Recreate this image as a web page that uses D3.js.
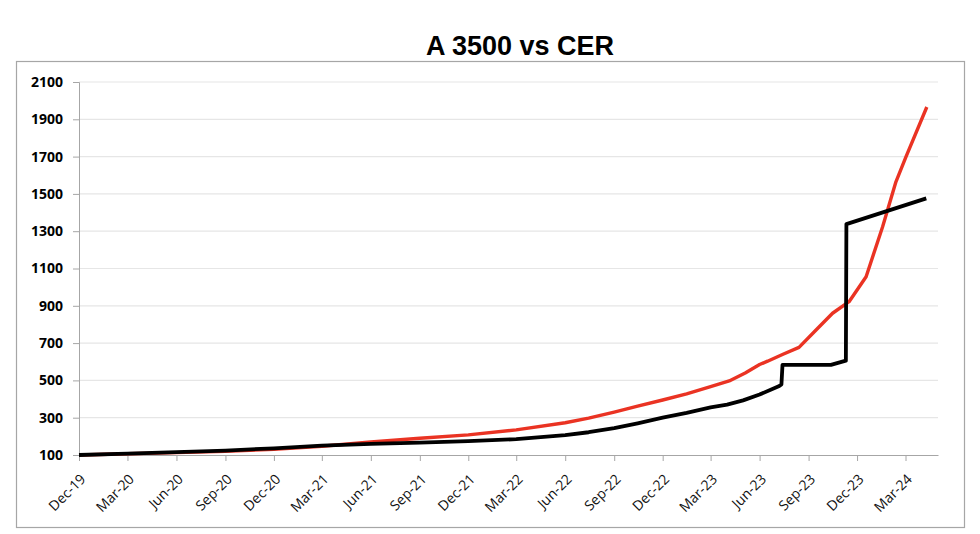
<!DOCTYPE html>
<html>
<head>
<meta charset="utf-8">
<script src="https://cdn.jsdelivr.net/npm/d3@7"></script>
<style>
  body { margin: 0; background: #fff; }
  svg { display: block; }
</style>
</head>
<body>
<div id="chart"></div>
<script>
// CER (red) and A 3500 (black), base Dec-19 = 100
const cerDates = ["2019-12-01", "2020-03-01", "2020-06-01", "2020-09-01", "2020-12-01",
    "2021-03-01", "2021-06-01", "2021-09-01", "2021-12-01", "2022-03-01", "2022-06-01",
    "2022-07-15", "2022-09-01", "2022-10-15", "2022-12-01", "2023-01-15", "2023-03-01",
    "2023-04-05", "2023-05-05", "2023-06-01", "2023-06-16", "2023-07-15", "2023-08-14",
    "2023-09-15", "2023-10-16", "2023-11-16", "2023-12-18", "2024-01-18", "2024-02-12",
    "2024-03-02", "2024-04-10"];
const cerValues = [100, 107, 113, 120, 131, 147, 170, 190, 208, 235, 273, 298, 330, 362,
    395, 428, 466, 497, 540, 585, 603, 640, 677, 770, 860, 922, 1056, 1324, 1565, 1700, 1966];

const a3500Dates = ["2019-12-01", "2020-03-01", "2020-06-01", "2020-09-01", "2020-12-01",
    "2021-03-01", "2021-06-01", "2021-09-01", "2021-12-01", "2022-03-01", "2022-06-01",
    "2022-07-15", "2022-09-01", "2022-10-15", "2022-12-01", "2023-01-15", "2023-03-01",
    "2023-04-01", "2023-05-01", "2023-06-01", "2023-07-08", "2023-07-12", "2023-07-14",
    "2023-10-13", "2023-11-10", "2023-11-11", "2024-04-09"];
const a3500Values = [100, 107, 115, 124, 136, 150, 160, 166, 174, 185, 206, 222, 244, 270,
    300, 326, 355, 370, 393, 424, 470, 478, 583, 583, 606, 1338, 1476];

const xTickLabels = ["Dec-19", "Mar-20", "Jun-20", "Sep-20", "Dec-20", "Mar-21", "Jun-21",
    "Sep-21", "Dec-21", "Mar-22", "Jun-22", "Sep-22", "Dec-22", "Mar-23", "Jun-23",
    "Sep-23", "Dec-23", "Mar-24"];
const yTicks = [100, 300, 500, 700, 900, 1100, 1300, 1500, 1700, 1900, 2100];

const W = 980, H = 534;
const margin = { top: 82, right: 42, bottom: 79, left: 79 };
const width = W - margin.left - margin.right,
      height = H - margin.top - margin.bottom;

const parseDate = d3.timeParse("%Y-%m-%d");
const parseTick = d3.timeParse("%b-%y");

const cer = cerDates.map((d, i) => ({ date: parseDate(d), value: cerValues[i] }));
const a3500 = a3500Dates.map((d, i) => ({ date: parseDate(d), value: a3500Values[i] }));
const tickDates = xTickLabels.map(parseTick);

const svg = d3.select("#chart")
    .append("svg")
    .attr("width", W)
    .attr("height", H);

svg.append("rect")
    .attr("x", 16.5).attr("y", 61.5)
    .attr("width", 948).attr("height", 466)
    .attr("fill", "#fff")
    .attr("stroke", "#a6a6a6")
    .attr("stroke-width", 1.2);

svg.append("text")
    .attr("x", 520).attr("y", 55)
    .attr("text-anchor", "middle")
    .attr("font-family", "'Liberation Sans', Arial, sans-serif")
    .attr("font-weight", "bold")
    .attr("font-size", 27)
    .attr("fill", "#000")
    .text("A 3500 vs CER");

const g = svg.append("g")
    .attr("transform", `translate(${margin.left},${margin.top})`);

const x = d3.scaleTime()
    .domain([parseDate("2019-12-01"), parseDate("2024-05-01")])
    .range([0, width]);

const y = d3.scaleLinear()
    .domain([100, 2100])
    .range([height, 0]);

// gridlines
g.append("g")
    .selectAll("line")
    .data(yTicks.slice(1))
    .enter()
    .append("line")
    .attr("x1", 0).attr("x2", width)
    .attr("y1", d => y(d)).attr("y2", d => y(d))
    .attr("stroke", "#e6e6e6")
    .attr("stroke-width", 1.2);

// y axis
const yAxis = g.append("g")
    .call(d3.axisLeft(y).tickValues(yTicks).tickFormat(d3.format("d")).tickSize(6).tickPadding(10));
yAxis.select(".domain").attr("stroke", "#a6a6a6");
yAxis.selectAll(".tick line").attr("stroke", "#a6a6a6");
yAxis.selectAll("text")
    .attr("font-family", "'Open Sans', sans-serif")
    .attr("font-weight", "bold")
    .attr("font-size", 14)
    .attr("fill", "#000");

// x axis
const xAxis = g.append("g")
    .attr("transform", `translate(0,${height})`)
    .call(d3.axisBottom(x).tickValues(tickDates).tickFormat(d3.timeFormat("%b-%y")).tickSize(6).tickSizeOuter(0));
xAxis.select(".domain").attr("stroke", "#a6a6a6");
xAxis.selectAll(".tick line").attr("stroke", "#a6a6a6");
xAxis.selectAll("text")
    .attr("font-family", "'Open Sans', sans-serif")
    .attr("font-size", 14)
    .attr("fill", "#111")
    .attr("text-anchor", "end")
    .attr("dy", null)
    .attr("y", 0)
    .attr("transform", "translate(7,25) rotate(-45)");

const line = d3.line()
    .x(d => x(d.date))
    .y(d => y(d.value));

g.append("path")
    .datum(cer)
    .attr("fill", "none")
    .attr("stroke", "#ea3323")
    .attr("stroke-width", 3.4)
    .attr("stroke-linejoin", "round")
    .attr("d", line);

g.append("path")
    .datum(a3500)
    .attr("fill", "none")
    .attr("stroke", "#000")
    .attr("stroke-width", 3.8)
    .attr("stroke-linejoin", "round")
    .attr("d", line);
</script>
</body>
</html>
